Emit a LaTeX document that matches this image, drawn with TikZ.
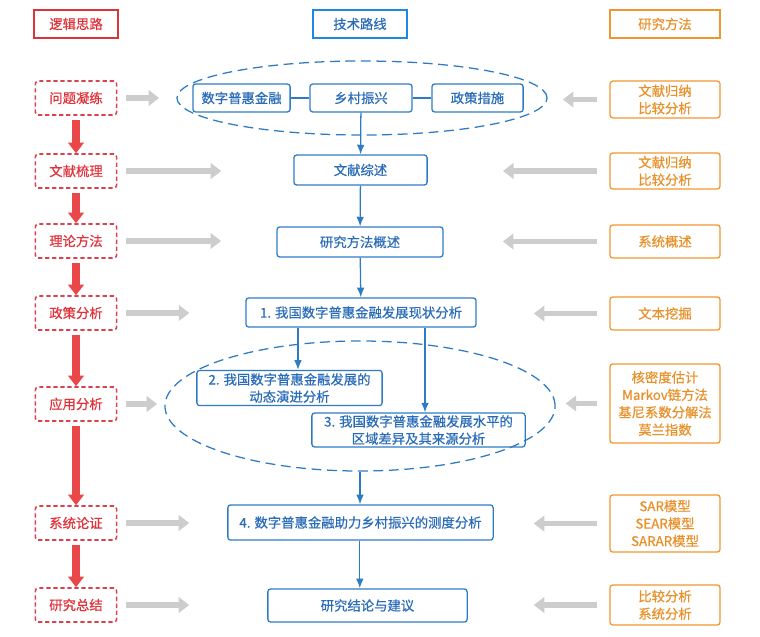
\documentclass[tikz,border=0pt]{standalone}
\usepackage{fontspec}
\setmainfont{Noto Sans CJK SC}[FakeBold=0.6]
\usepackage{tikz}
\usetikzlibrary{positioning, arrows.meta, shapes.geometric, calc}
\definecolor{logic}{HTML}{E0323A}
\definecolor{logicdash}{HTML}{D9424F}
\definecolor{route}{HTML}{1E88E5}
\definecolor{routetext}{HTML}{2A6CB8}
\definecolor{routeline}{HTML}{2E7BC4}
\definecolor{method}{HTML}{F0962E}
\definecolor{methodtext}{HTML}{E8902A}
\definecolor{arrgray}{HTML}{CDCDCD}
\definecolor{redarrow}{HTML}{EA4848}
\tikzset{
  head/.style      = {rectangle, line width=2pt, minimum height=0.7cm,
                      align=center, font=\fontsize{9.5}{12}\selectfont},
  logicbox/.style  = {rectangle, rounded corners=2pt, draw=logicdash, dashed,
                      dash pattern=on 3pt off 2pt, line width=1.1pt, text=logic,
                      minimum width=2.03cm, minimum height=0.85cm,
                      font=\fontsize{9.5}{12}\selectfont},
  techbox/.style   = {rectangle, rounded corners=2pt, draw=routeline, line width=0.9pt,
                      text=routetext, minimum height=0.75cm, inner sep=1pt,
                      align=center, font=\fontsize{9.5}{12.2}\selectfont},
  methodbox/.style = {rectangle, rounded corners=2pt, draw=method, line width=0.9pt,
                      text=methodtext, minimum width=2.75cm, inner sep=1pt,
                      align=center, font=\fontsize{9.5}{12.4}\selectfont},
  scopering/.style = {ellipse, draw=routeline, dash pattern=on 7pt off 4pt,
                      line width=0.9pt, inner sep=0pt},
  rarr/.style      = {-{Triangle[length=7.5pt,width=11pt]}, line width=5pt, draw=redarrow},
  garr/.style      = {-{Triangle[length=7.5pt,width=11pt]}, line width=4pt, draw=arrgray},
  barr/.style      = {-{Latex[length=2.4mm,width=1.9mm]}, line width=0.9pt, draw=routeline},
  link/.style      = {line width=0.9pt, draw=routeline},
}

\begin{document}
\begin{tikzpicture}[x=0.025cm, y=-0.025cm]
  \useasboundingbox (0,0) rectangle (760,636);

  % Column heads
  \node[head, draw=logic, text=logic, minimum width=2.1cm] (hlogic) at (76,24) {逻辑思路};
  \node[head, draw=route, text=routetext, minimum width=2.35cm] (hroute) at (360,24) {技术路线};
  \node[head, draw=method, text=methodtext, minimum width=2.75cm] (hmethod) at (665,24) {研究方法};

  % Left column: logic
  \node[logicbox] (l1) at (76,98)  {问题凝练};
  \node[logicbox] (l2) at (76,171) {文献梳理};
  \node[logicbox] (l3) at (76,241) {理论方法};
  \node[logicbox] (l4) at (76,313) {政策分析};
  \node[logicbox] (l5) at (76,404) {应用分析};
  \node[logicbox] (l6) at (76,523) {系统论证};
  \node[logicbox] (l7) at (76,605) {研究总结};

  % Middle column: route
  \node[scopering, minimum width=9.25cm, minimum height=1.85cm] (topic) at (362,98) {};
  \node[techbox, minimum width=2.43cm, minimum height=0.7cm] (dif) at (241.5,98) {数字普惠金融};
  \node[techbox, minimum width=2.55cm, minimum height=0.7cm] (rural) at (361,98) {乡村振兴};
  \node[techbox, minimum width=2.28cm, minimum height=0.7cm] (policy) at (477.5,98) {政策措施};

  \node[techbox, minimum width=3.33cm] (review) at (360.5,170) {文献综述};
  \node[techbox, minimum width=4.15cm] (overview) at (360,242) {研究方法概述};
  \node[techbox, minimum width=5.75cm, minimum height=0.73cm] (status) at (361,312.5)
       {1. 我国数字普惠金融发展现状分析};

  \node[scopering, minimum width=9.75cm, minimum height=3.25cm] (apply) at (360,406) {};
  \node[techbox, minimum width=4.63cm, minimum height=0.88cm] (dynamic) at (289.5,388)
       {2. 我国数字普惠金融发展的\\动态演进分析};
  \node[techbox, minimum width=5.33cm, minimum height=0.85cm] (region) at (418.5,430)
       {3. 我国数字普惠金融发展水平的\\区域差异及其来源分析};

  \node[techbox, minimum width=6.63cm, minimum height=0.88cm] (measure) at (360.5,522.5)
       {4. 数字普惠金融助力乡村振兴的测度分析};
  \node[techbox, minimum width=4.98cm, minimum height=0.83cm] (concl) at (367.5,605.5)
       {研究结论与建议};

  % Right column: methods
  \node[methodbox, minimum height=0.92cm] (m1) at (665,99.5)  {文献归纳\\比较分析};
  \node[methodbox, minimum height=0.9cm]  (m2) at (665,171)   {文献归纳\\比较分析};
  \node[methodbox, minimum height=0.83cm] (m3) at (665,241.5) {系统概述};
  \node[methodbox, minimum height=0.83cm] (m4) at (665,313.5) {文本挖掘};
  \node[methodbox, minimum height=1.98cm] (m5) at (665,403.5)
       {核密度估计\\Markov链方法\\基尼系数分解法\\莫兰指数};
  \node[methodbox, minimum height=1.43cm] (m6) at (665,523.5) {SAR模型\\SEAR模型\\SARAR模型};
  \node[methodbox, minimum height=1.0cm]  (m7) at (665,605)   {比较分析\\系统分析};

  % Red flow
  \draw[rarr, shorten <=3pt] (l1) -- (l2);
  \draw[rarr, shorten <=3pt] (l2) -- (l3);
  \draw[rarr, shorten <=3pt] (l3) -- (l4);
  \draw[rarr, shorten <=3pt] (l4) -- (l5);
  \draw[rarr, shorten <=3pt] (l5) -- (l6);
  \draw[rarr, shorten <=3pt] (l6) -- (l7);

  % Route links and arrows
  \draw[link] (dif) -- (rural);
  \draw[link] (rural) -- (policy);
  \draw[barr] (rural) -- (review);
  \draw[barr] (review) -- (overview);
  \draw[barr] (overview) -- (status);
  \draw[barr] ([xshift=-1.575cm]status.south) -- ([xshift=-1.575cm]status.south |- dynamic.north);
  \draw[barr] ([xshift=1.6cm]status.south) -- ([xshift=1.6cm]status.south |- region.north);
  \draw[barr] (apply.south) -- (apply.south |- measure.north);
  \draw[barr] ([xshift=-0.5pt]measure.south) -- ([xshift=-0.5pt]measure.south |- concl.north);

  % Gray arrows, left side
  \draw[garr, shorten <=0.22cm, shorten >=0.43cm] (l1.east) -- (l1.east -| topic.west);
  \draw[garr, shorten <=0.22cm, shorten >=1.8cm]  (l2.east) -- (l2.east -| review.west);
  \draw[garr, shorten <=0.22cm, shorten >=1.38cm] (l3.east) -- (l3.east -| overview.west);
  \draw[garr, shorten <=0.22cm, shorten >=1.4cm]  (l4.east) -- (l4.east -| status.west);
  \draw[garr, shorten <=0.22cm, shorten >=0.18cm] (l5.east) -- (l5.east -| apply.west);
  \draw[garr, shorten <=0.22cm, shorten >=0.95cm] (l6.east) -- (l6.east -| measure.west);
  \draw[garr, shorten <=0.22cm, shorten >=1.95cm] (l7.east) -- (l7.east -| concl.west);

  % Gray arrows, right side
  \draw[garr, shorten <=0.3cm, shorten >=0.38cm] (m1.west) -- (m1.west -| topic.east);
  \draw[garr, shorten <=0.3cm, shorten >=1.88cm] (m2.west) -- (m2.west -| review.east);
  \draw[garr, shorten <=0.3cm, shorten >=1.48cm] (m3.west) -- (m3.west -| overview.east);
  \draw[garr, shorten <=0.3cm, shorten >=1.43cm] (m4.west) -- (m4.west -| status.east);
  \draw[garr, shorten <=0.3cm, shorten >=0.25cm] (m5.west) -- (m5.west -| apply.east);
  \draw[garr, shorten <=0.3cm, shorten >=1.0cm]  (m6.west) -- (m6.west -| measure.east);
  \draw[garr, shorten <=0.3cm, shorten >=1.65cm] (m7.west) -- (m7.west -| concl.east);

\end{tikzpicture}
\end{document}
